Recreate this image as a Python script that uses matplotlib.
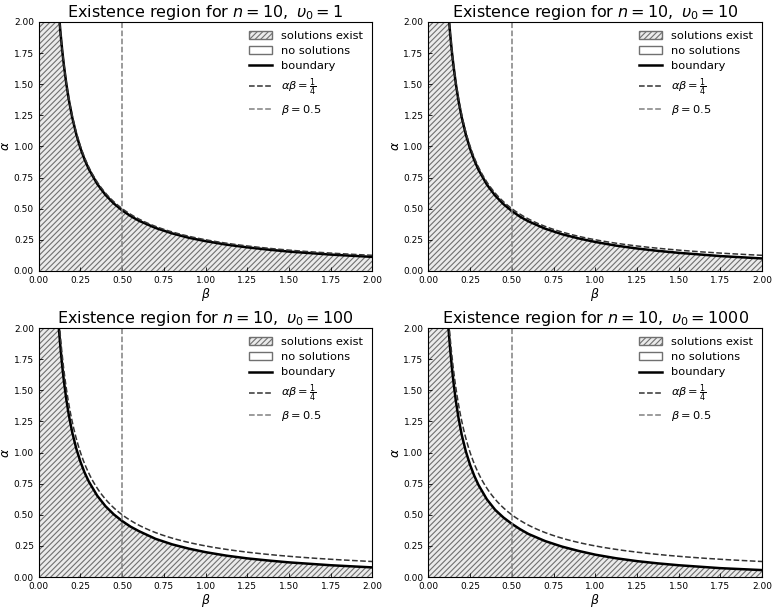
import numpy as np
import matplotlib.pyplot as plt
from matplotlib.patches import Patch
from matplotlib.lines import Line2D

n = 10
v0_values = [1, 10, 100, 1000]

# beta grid and boundary alpha values (one list per panel)
beta = [0.1, 0.11, 0.12, 0.13, 0.14, 0.15, 0.165, 0.18, 0.2, 0.225, 0.25, 0.275, 0.3, 0.35, 0.4,
        0.45, 0.5, 0.55, 0.6, 0.7, 0.8, 0.9, 1.0, 1.125, 1.25, 1.375, 1.5, 1.75, 2.0]
alpha_v1 = [2.5, 2.273, 2.079, 1.915, 1.777, 1.657, 1.503, 1.375, 1.235, 1.096, 0.984, 0.893, 0.817, 0.699, 0.61,
            0.541, 0.486, 0.441, 0.403, 0.345, 0.301, 0.266, 0.239, 0.211, 0.189, 0.171, 0.155, 0.131, 0.1125]
alpha_v10 = [2.488, 2.259, 2.069, 1.908, 1.768, 1.65, 1.497, 1.369, 1.231, 1.091, 0.98, 0.889, 0.8125, 0.694, 0.605,
             0.536, 0.481, 0.435, 0.398, 0.339, 0.295, 0.261, 0.2325, 0.203, 0.18, 0.161, 0.145, 0.119, 0.1]
alpha_v100 = [2.425, 2.195, 2.004, 1.842, 1.702, 1.58, 1.427, 1.301, 1.165, 1.031, 0.925, 0.838, 0.767, 0.654, 0.569,
              0.503, 0.45, 0.405, 0.369, 0.307, 0.2625, 0.228, 0.2, 0.172, 0.15, 0.133, 0.118, 0.095, 0.0775]
alpha_v1000 = [2.425, 2.193, 2.0, 1.837, 1.693, 1.567, 1.409, 1.281, 1.14, 1.006, 0.9, 0.813, 0.74, 0.625, 0.54,
               0.478, 0.4275, 0.384, 0.346, 0.289, 0.245, 0.21, 0.18, 0.151, 0.128, 0.11, 0.095, 0.0715, 0.056]
boundaries = [alpha_v1, alpha_v10, alpha_v100, alpha_v1000]

beta_ref = 0.5
ymax = 2.0
beta_fine = np.linspace(0.1, 2.0, 400)

fig, axes = plt.subplots(2, 2, figsize=(7.76, 6.10), dpi=100)
plt.subplots_adjust(left=0.05, right=0.982, top=0.964, bottom=0.054, wspace=0.168, hspace=0.23)

hatch_face = '#ebebeb'
hatch_edge = '#707070'
plt.rcParams['hatch.linewidth'] = 0.8

for ax, v0, alpha_b in zip(axes.flat, v0_values, boundaries):
    # hatched region reaches the left edge (beta = 0) where alpha is above the plot
    ax.fill_between([0.0] + beta, 0, [ymax] + alpha_b, facecolor=hatch_face, edgecolor=hatch_edge,
                    hatch='//////', linewidth=0)
    ax.plot(beta, alpha_b, color='black', lw=1.8)
    ax.plot(beta_fine, 1 / (4 * beta_fine), color='#333333', ls='--', lw=1.1)
    ax.axvline(beta_ref, color='#808080', ls='--', lw=1.1)
    ax.set_xlim(0, 2)
    ax.set_ylim(0, ymax)
    ax.set_xticks(np.arange(0, 2.01, 0.25))
    ax.set_yticks(np.arange(0, 2.01, 0.25))
    ax.tick_params(direction='in', labelsize=6.5, length=3, width=0.6)
    ax.set_xlabel(r'$\beta$', fontsize=9, labelpad=1)
    ax.set_ylabel(r'$\alpha$', fontsize=9)
    ax.yaxis.set_label_coords(-0.08, 0.5)
    ax.set_title(r'Existence region for $n=10,\ \upsilon_0=%d$' % v0, fontsize=11.5, pad=3)

    handles = [
        Patch(facecolor=hatch_face, edgecolor=hatch_edge, hatch='//////', label='solutions exist'),
        Patch(facecolor='white', edgecolor=hatch_edge, label='no solutions'),
        Line2D([], [], color='black', lw=1.8, label='boundary'),
        Line2D([], [], color='#333333', ls='--', lw=1.1, label=r'$\alpha\beta=\frac{1}{4}$'),
        Line2D([], [], color='#808080', ls='--', lw=1.1, label=r'$\beta=0.5$'),
    ]
    ax.legend(handles=handles, loc='upper right', frameon=False, fontsize=8.2,
              handlelength=2.0, labelspacing=0.45, borderaxespad=0.4)

plt.savefig('out.png', dpi=100)
